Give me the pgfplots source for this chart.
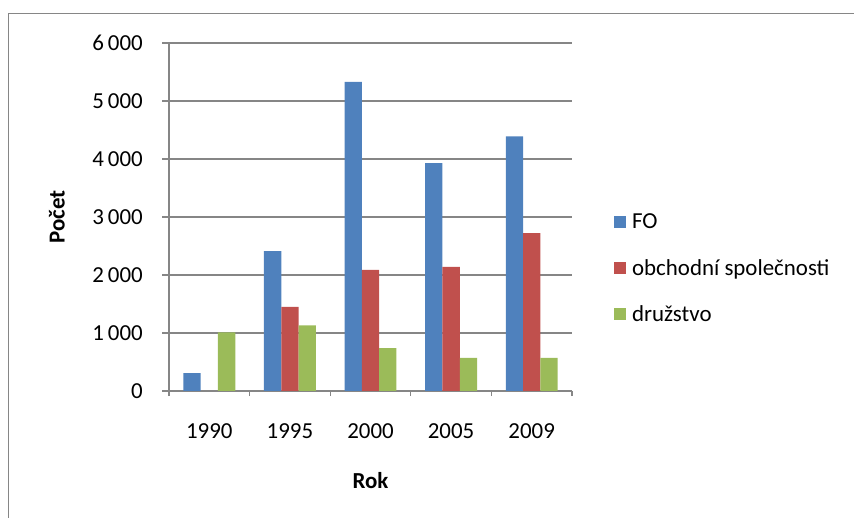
\documentclass[border=0pt]{standalone}
\usepackage{pgfplots}
\pgfplotsset{compat=1.18}
\usepackage{fontspec}
\setmainfont{Carlito}
\definecolor{cFO}{HTML}{4F81BD}
\definecolor{cOS}{HTML}{C0504D}
\definecolor{cDR}{HTML}{9BBB59}
\definecolor{cGrid}{HTML}{868686}
\newcommand\cf{\fontsize{23}{27}\selectfont}
\begin{document}
\begin{tikzpicture}[x=1bp,y=1bp]
\useasboundingbox (0bp,0bp) rectangle (854bp,518bp);
\draw[cGrid, line width=1.3bp] (8.5bp,0bp) -- (8.5bp,504.5bp) -- (854bp,504.5bp);
\begin{axis}[
 at={(169bp,127bp)}, anchor=south west, scale only axis, width=403bp, height=348bp,
 ybar=0pt, bar width=17.3bp,
 xmin=-0.5, xmax=4.5, ymin=0, ymax=6000,
 xtick={0,1,2,3,4}, xticklabels={1990,1995,2000,2005,2009},
 minor xtick={-0.5,0.5,1.5,2.5,3.5,4.5},
 ytick={0,1000,...,6000},
 scaled ticks=false,
 /pgf/number format/assume math mode=true,
 /pgf/number format/1000 sep={\hspace{0.17em}},
 axis lines*=left,
 axis line style={cGrid, line width=1.3bp},
 ymajorgrids, grid style={cGrid, line width=1.3bp},
 tick align=outside,
 major tick length=7bp, minor tick length=5bp,
 major x tick style={draw=none},
 minor x tick style={cGrid, line width=1.3bp},
 y tick style={cGrid, line width=1.3bp},
 tick label style={font=\cf, text=black},
 yticklabel style={anchor=east, inner sep=0pt, xshift=-19bp},
 xticklabel style={anchor=base, inner sep=0pt, yshift=-40bp},
 xlabel={\bfseries Rok}, ylabel={\bfseries Počet},
 label style={font=\cf},
 xlabel style={at={(axis description cs:0.5,-0.256)}, anchor=center},
 ylabel style={at={(axis description cs:-0.278,0.5)}, anchor=center},
 legend style={at={(axis description cs:1.104,0.352)}, anchor=west, draw=none, fill=none,
   inner sep=0pt, row sep=25bp, font=\cf,
   /tikz/every odd column/.append style={column sep=4bp}},
 legend cell align=left,
]
\addplot[fill=cFO, draw=none, legend image code/.code={\fill[cFO] (0bp,-6bp) rectangle (12bp,6bp);}]
 coordinates {(0,310) (1,2410) (2,5330) (3,3930) (4,4390)};
\addplot[fill=cOS, draw=none, legend image code/.code={\fill[cOS] (0bp,-6bp) rectangle (12bp,6bp);}]
 coordinates {(1,1450) (2,2090) (3,2140) (4,2720)};
\addplot[fill=cDR, draw=none, legend image code/.code={\fill[cDR] (0bp,-6bp) rectangle (12bp,6bp);}]
 coordinates {(0,1010) (1,1130) (2,740) (3,570) (4,570)};
\legend{FO, obchodní společnosti, družstvo}
\end{axis}
\end{tikzpicture}
\end{document}
